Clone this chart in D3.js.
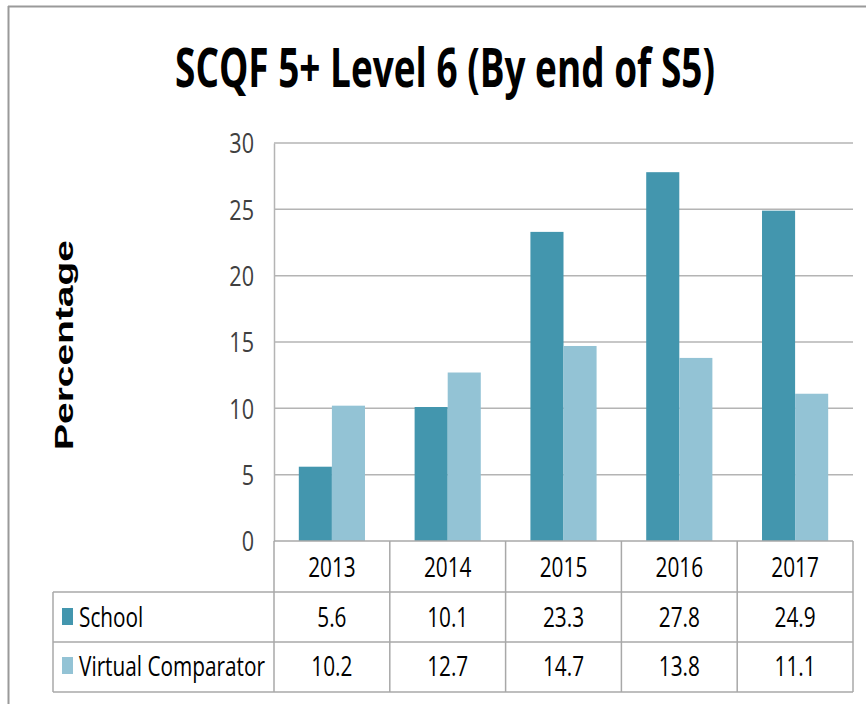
<!DOCTYPE html>
<html><head><meta charset="utf-8">
<script src="https://cdn.jsdelivr.net/npm/d3@7"></script>
<style>body{margin:0;background:#fff}svg{display:block}</style>
</head><body>
<script>
const years = ["2013","2014","2015","2016","2017"];
const seriesNames = ["School","Virtual Comparator"];
const school = [5.6,10.1,23.3,27.8,24.9];
const comparator = [10.2,12.7,14.7,13.8,11.1];
const yTicks = [0,5,10,15,20,25,30];
const title = "SCQF 5+ Level 6 (By end of S5)";
const yLabel = "Percentage";

(function(){
const colors = ["#4396ae","#93c3d5"];
const W = 866, H = 704;
const svg = d3.select("body").append("svg").attr("width",W).attr("height",H);
const FONT = "'Open Sans',sans-serif";
const SQ = 0.77;
// horizontally compressed text via transform
function sqText(parent, tx, ty, sx, anchor){
  const g = parent.append("g").attr("transform",`translate(${tx},${ty}) scale(${sx},1)`);
  return g.append("text").attr("x",0).attr("y",0).attr("text-anchor",anchor||"start");
}

// frame
svg.append("line").attr("x1",8).attr("x2",W).attr("y1",6.5).attr("y2",6.5).attr("stroke","#9a9a9a").attr("stroke-width",2);
svg.append("line").attr("x1",8.5).attr("x2",8.5).attr("y1",6).attr("y2",H).attr("stroke","#9a9a9a").attr("stroke-width",2);

const pL = 274, pR = 853, pT = 143, pB = 541;
const x = d3.scaleBand().domain(years).range([pL,pR]).padding(0);
const xs = d3.scaleBand().domain(seriesNames).range([0,x.bandwidth()]).paddingInner(0).paddingOuter(0.75);
const y = d3.scaleLinear().domain([0,30]).range([pB,pT]);

// title
const tG = svg.append("g");
const tt = tG.append("text").attr("x",0).attr("y",0).attr("text-anchor","middle")
  .attr("font-family",FONT).attr("font-weight","bold").attr("font-size",53).attr("fill","#000").text(title);
const tw = tt.node().getComputedTextLength();
tG.attr("transform",`translate(445,87) scale(${540/tw},1)`);

// y label
const yl = svg.append("text").attr("text-anchor","middle")
  .attr("font-family","'Liberation Sans',Arial,sans-serif").attr("font-weight","bold").attr("font-size",25)
  .attr("fill","#000").text(yLabel);
const yw = yl.node().getComputedTextLength();
yl.attr("transform",`translate(73,345) rotate(-90) scale(${210/yw},1)`);

// gridlines
svg.append("g").selectAll("line").data(yTicks.filter(t=>t>0)).join("line")
  .attr("x1",pL).attr("x2",pR).attr("y1",d=>y(d)).attr("y2",d=>y(d))
  .attr("stroke","#b4b4b4").attr("stroke-width",1.5);

// y axis
const yAxis = d3.axisLeft(y).tickValues(yTicks).tickSize(0).tickPadding(20);
const ga = svg.append("g").attr("transform",`translate(${pL},0)`).call(yAxis);
ga.select(".domain").attr("stroke","#b4b4b4").attr("stroke-width",1.5);
ga.selectAll(".tick text").attr("font-family",FONT).attr("font-size",27).attr("fill","#404040").attr("dy","0.36em")
  .attr("x",0).attr("transform","translate(-20,0) scale(0.8,1)");

// bars
const seriesData = [school, comparator];
seriesNames.forEach((s,si)=>{
  svg.append("g").selectAll("rect").data(years).join("rect")
    .attr("x",d=>x(d)+xs(s)).attr("width",xs.bandwidth())
    .attr("y",(d,i)=>y(seriesData[si][i])).attr("height",(d,i)=>y(0)-y(seriesData[si][i]))
    .attr("fill",colors[si]);
});

// data table
const rowLines = [541,592,642,692];
const tableLeft = 53;
const tg = svg.append("g");
const gridStroke = "#a8a8a8";
tg.append("line").attr("x1",pL).attr("x2",pR).attr("y1",rowLines[0]).attr("y2",rowLines[0]).attr("stroke",gridStroke).attr("stroke-width",1.5);
[1,2,3].forEach(i=>{
  tg.append("line").attr("x1",tableLeft).attr("x2",pR).attr("y1",rowLines[i]).attr("y2",rowLines[i]).attr("stroke",gridStroke).attr("stroke-width",1.5);
});
const vx = years.map(d=>x(d)).concat([pR]);
vx.forEach(v=>{
  tg.append("line").attr("x1",v).attr("x2",v).attr("y1",rowLines[0]).attr("y2",rowLines[3]).attr("stroke",gridStroke).attr("stroke-width",1.5);
});
tg.append("line").attr("x1",tableLeft).attr("x2",tableLeft).attr("y1",rowLines[1]).attr("y2",rowLines[3]).attr("stroke",gridStroke).attr("stroke-width",1.5);

years.forEach(d=>{
  sqText(tg, x(d)+x.bandwidth()/2, 577, SQ, "middle")
    .attr("font-family",FONT).attr("font-size",27).attr("fill","#000").text(d);
});

const baselines = [627, 676];
seriesNames.forEach((s,si)=>{
  const bl = baselines[si];
  tg.append("rect").attr("x",62).attr("y",bl-19).attr("width",11).attr("height",17).attr("fill",colors[si]);
  sqText(tg, 79, bl, SQ, "start").attr("font-family",FONT).attr("font-size",27).attr("fill","#000").text(s);
  years.forEach((d,i)=>{
    sqText(tg, x(d)+x.bandwidth()/2, bl, SQ, "middle")
      .attr("font-family",FONT).attr("font-size",27).attr("fill","#000")
      .text(seriesData[si][i].toFixed(1));
  });
});
})();
</script>
</body></html>
